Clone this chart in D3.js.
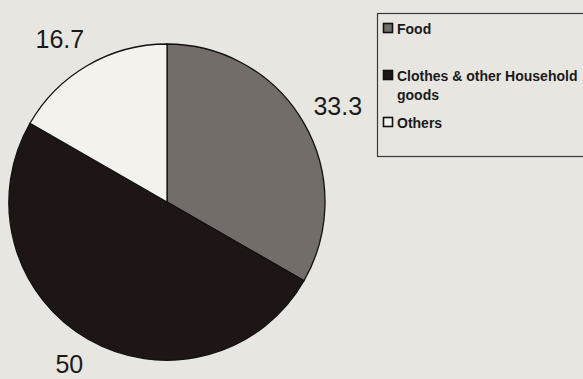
<!DOCTYPE html>
<html>
<head>
<meta charset="utf-8">
<script src="https://cdn.jsdelivr.net/npm/d3@7"></script>
<style>
  body { margin: 0; background: #e8e6e1; }
  svg { display: block; font-family: "Liberation Sans", Arial, sans-serif; }
</style>
</head>
<body>
<div id="chart"></div>
<script>
// data
var categories = ["Food", "Clothes & other Household goods", "Others"];
var values = [33.3, 50, 16.7];
var sliceColors = ["#726d68", "#1d1614", "#f4f2ed"];

var w = 583, h = 379;
var cx = 167, cy = 202, radius = 158;

var svg = d3.select("#chart")
    .append("svg")
    .attr("width", w)
    .attr("height", h);

svg.append("rect")
    .attr("width", w)
    .attr("height", h)
    .attr("fill", "#e8e6e1");

// pie, starting at 12 o'clock, clockwise, no sorting
var pie = d3.pie().sort(null);
var arc = d3.arc().innerRadius(0).outerRadius(radius);

var g = svg.append("g")
    .attr("transform", "translate(" + cx + "," + cy + ")");

var arcs = g.selectAll("g.arc")
    .data(pie(values))
    .enter()
    .append("g")
    .attr("class", "arc");

arcs.append("path")
    .attr("d", arc)
    .attr("fill", function (d, i) { return sliceColors[i]; })
    .attr("stroke", "#111")
    .attr("stroke-width", 1.3);

// value labels sit outside the pie
var labelArc = d3.arc().innerRadius(radius + 30).outerRadius(radius + 30);
var labelOffsets = [[8, -2], [-4, -1], [-13, 0]];

arcs.append("text")
    .attr("transform", function (d, i) {
        var c = labelArc.centroid(d);
        return "translate(" + (c[0] + labelOffsets[i][0]) + "," + (c[1] + labelOffsets[i][1]) + ")";
    })
    .attr("text-anchor", "middle")
    .attr("dy", "0.35em")
    .attr("font-size", 25)
    .attr("fill", "#1a1a1a")
    .text(function (d) { return d.data; });

// legend
var legend = svg.append("g").attr("transform", "translate(377,13)");

legend.append("rect")
    .attr("x", 0.5)
    .attr("y", 0.5)
    .attr("width", 240)
    .attr("height", 143)
    .attr("fill", "none")
    .attr("stroke", "#3a3a3a")
    .attr("stroke-width", 1.2);

var legendY = d3.scalePoint()
    .domain(categories)
    .range([21, 115]);

var items = legend.selectAll("g.item")
    .data(categories)
    .enter()
    .append("g")
    .attr("class", "item")
    .attr("transform", function (d) { return "translate(0," + legendY(d) + ")"; });

items.append("rect")
    .attr("x", 6.5)
    .attr("y", -10.5)
    .attr("width", 9)
    .attr("height", 9)
    .attr("fill", function (d, i) { return sliceColors[i]; })
    .attr("stroke", "#111")
    .attr("stroke-width", 1.6);

items.append("text")
    .attr("x", 20)
    .attr("y", 0)
    .attr("font-size", 14)
    .attr("font-weight", "bold")
    .attr("fill", "#1a1a1a")
    .each(function (d) {
        var t = d3.select(this);
        if (d === "Clothes & other Household goods") {
            t.append("tspan").attr("x", 20).text("Clothes & other Household");
            t.append("tspan").attr("x", 20).attr("dy", 19).text("goods");
        } else {
            t.text(d);
        }
    });
</script>
</body>
</html>
